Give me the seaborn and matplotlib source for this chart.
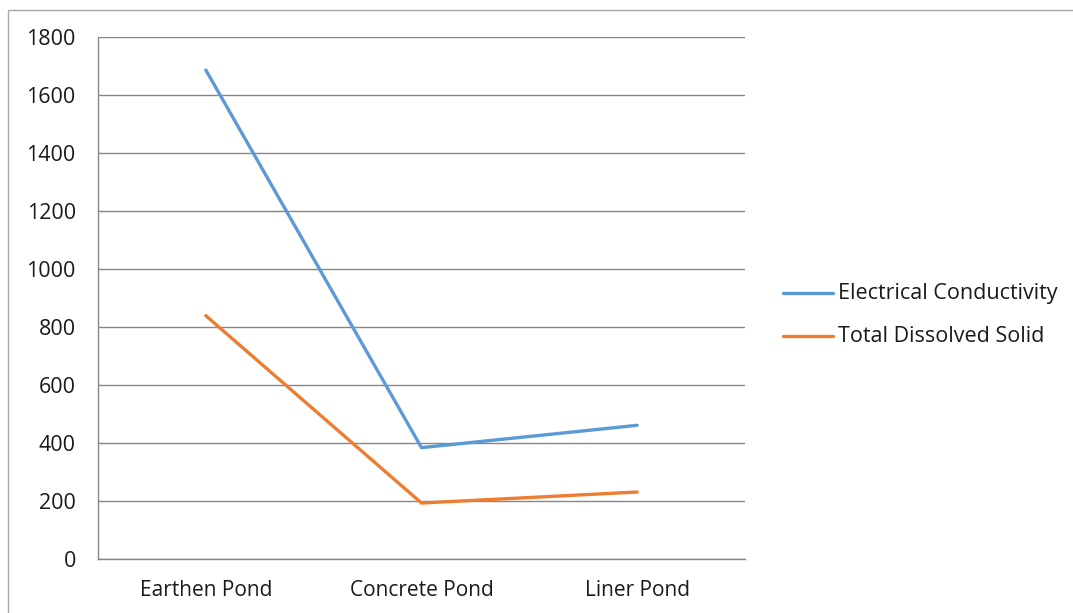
import pandas as pd
import numpy as np
import seaborn as sns
import matplotlib.pyplot as plt
from matplotlib.patches import Rectangle

# data
ponds = ['Earthen Pond', 'Concrete Pond', 'Liner Pond']
ec = [1686, 384, 461]
tds = [839, 193, 231]

df = pd.DataFrame({
    'pond': ponds * 2,
    'x': list(range(len(ponds))) * 2,
    'value': ec + tds,
    'series': ['Electrical Conductivity'] * 3 + ['Total Dissolved Solid'] * 3,
})

sns.set_style('white')
plt.rcParams['font.family'] = ['Open Sans', 'DejaVu Sans']

fig = plt.figure(figsize=(10.73, 6.13), dpi=100)
ax = fig.add_axes([98 / 1073, 1 - 559 / 613, (745 - 98) / 1073, (559 - 37) / 613])

palette = {'Electrical Conductivity': '#5B9BD5', 'Total Dissolved Solid': '#ED7D31'}
sns.lineplot(data=df, x='x', y='value', hue='series', palette=palette,
             linewidth=2.4, ax=ax, legend=False, sort=False)

ax.set_xlim(-0.5, 2.5)
ax.set_ylim(0, 1800)
ax.set_yticks(np.arange(0, 1801, 200))
ax.yaxis.grid(True, color='#868686', linewidth=1)
ax.set_axisbelow(True)

# category labels between boundary ticks
ax.set_xticks(np.arange(-0.5, 2.6, 1))
ax.set_xticklabels([])
ax.set_xticks(range(len(ponds)), minor=True)
ax.set_xticklabels(ponds, minor=True, fontsize=15, color='#1a1a1a')
ax.tick_params(axis='x', which='major', length=6, color='#868686', width=1, direction='out')
ax.tick_params(axis='x', which='minor', length=0, pad=15)
ax.tick_params(axis='y', length=6, color='#868686', width=1, direction='out', labelsize=15.5,
               labelcolor='#1a1a1a', pad=10)

for s in ['top', 'right']:
    ax.spines[s].set_visible(False)
for s in ['left', 'bottom']:
    ax.spines[s].set_color('#868686')
    ax.spines[s].set_linewidth(1)
ax.set_xlabel('')
ax.set_ylabel('')

# legend drawn by hand on the right
for i, (name, col) in enumerate(palette.items()):
    yy = 1 - (293 + 43 * i) / 613
    fig.add_artist(plt.Line2D([783 / 1073, 833 / 1073], [yy, yy], color=col, linewidth=2.4,
                              transform=fig.transFigure))
    fig.text(838 / 1073, yy, name, fontsize=15.5, va='center', ha='left', color='#1a1a1a')

# outer chart border
fig.add_artist(Rectangle((8 / 1073, -0.01), 1.1, 1 - 10 / 613 + 0.01, transform=fig.transFigure,
                         fill=False, edgecolor='#a6a6a6', linewidth=1))

fig.savefig('out.png', dpi=100)
